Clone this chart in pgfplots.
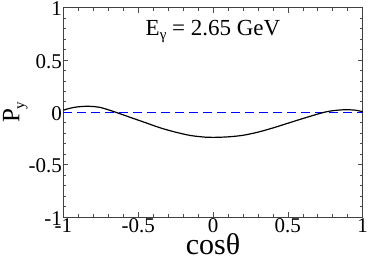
\documentclass[border=0pt]{standalone}
\usepackage{fontspec}
\setmainfont{Liberation Serif}
\usepackage{pgfplots}
\pgfplotsset{compat=1.18}
\newcommand\lowsub[1]{\raisebox{-0.45ex}{\fontsize{15}{15}\selectfont #1}}
\begin{document}
\begin{tikzpicture}
\begin{axis}[
  scale only axis,
  width=299.4pt, height=209.5pt,
  xmin=-1, xmax=1, ymin=-1, ymax=1,
  xtick={-1,-0.5,0,0.5,1},
  ytick={-1,-0.5,0,0.5,1},
  xticklabels={-1,-0.5,0,0.5,1},
  yticklabels={-1,-0.5,0,0.5,1},
  minor tick num=4,
  tick align=inside,
  major tick length=5pt,
  minor tick length=3pt,
  tick style={black!70, line width=0.6pt},
  axis line style={black!75, line width=0.9pt},
  ticklabel style={font=\fontsize{21}{21}\selectfont},
  xticklabel style={yshift=2pt},
  yticklabel style={xshift=2pt, yshift=-1.5pt},
  xlabel={cosθ},
  ylabel={P\lowsub{y}},
  xlabel style={font=\fontsize{30}{30}\selectfont, yshift=6pt},
  ylabel style={font=\fontsize{25}{25}\selectfont, yshift=-6pt},
  clip=false,
]
\addplot[blue, line width=1.2pt, dash pattern=on 9pt off 5pt] coordinates {(-1,0) (1,0)};
\addplot[black, line width=1.2pt, smooth] coordinates {
(-1,0.02) (-0.95,0.04) (-0.9,0.052) (-0.83,0.057) (-0.75,0.045) (-0.65,0.0)
(-0.55,-0.05) (-0.45,-0.10) (-0.35,-0.15) (-0.25,-0.19) (-0.15,-0.222)
(-0.05,-0.238) (0,-0.24) (0.1,-0.235) (0.2,-0.22) (0.3,-0.19) (0.4,-0.15)
(0.5,-0.105) (0.6,-0.06) (0.7,-0.017) (0.75,0.002) (0.8,0.015) (0.88,0.024)
(0.95,0.02) (1.0,0.005)
};
\node[font=\fontsize{23}{23}\selectfont] at (axis cs:0,0.77) {E\lowsub{γ} = 2.65 GeV};
\end{axis}
\pgfresetboundingbox
\path[use as bounding box] ([shift={(-63.3pt,-43pt)}]current axis.south west) rectangle ([shift={(5.3pt,7.5pt)}]current axis.north east);
\end{tikzpicture}
\end{document}
